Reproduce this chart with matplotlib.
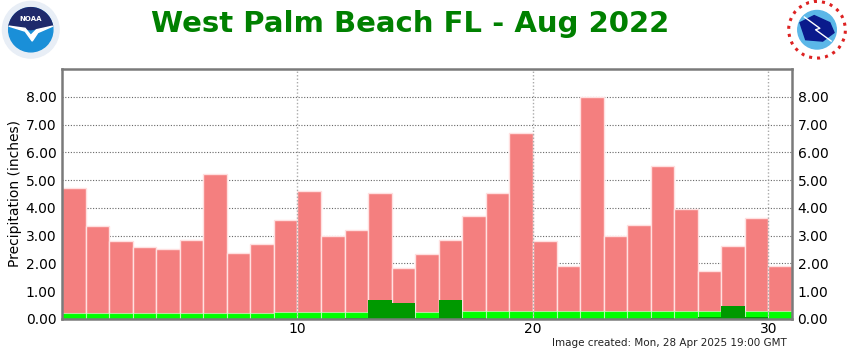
import matplotlib
matplotlib.use("Agg")
import matplotlib.pyplot as plt
from matplotlib.patches import Circle, Wedge, Polygon

# Daily precipitation, Aug 2022 (inches)
days = list(range(1, 32))
record_max = [4.70, 3.34, 2.81, 2.58, 2.51, 2.85, 5.22, 2.37, 2.69, 3.57,
              4.60, 3.00, 3.21, 4.53, 1.83, 2.34, 2.85, 3.71, 4.52, 6.68,
              2.82, 1.92, 8.00, 2.98, 3.38, 5.50, 3.96, 1.74, 2.61, 3.65,
              1.90]
normal = [0.22, 0.22, 0.22, 0.22, 0.22, 0.22, 0.22, 0.22, 0.23, 0.25,
          0.26, 0.26, 0.26, 0.26, 0.26, 0.26, 0.27, 0.27, 0.27, 0.27,
          0.27, 0.27, 0.27, 0.27, 0.27, 0.27, 0.27, 0.27, 0.27, 0.27,
          0.27]
observed = [0.00, 0.00, 0.00, 0.00, 0.00, 0.00, 0.00, 0.00, 0.00, 0.00,
            0.00, 0.01, 0.05, 0.68, 0.59, 0.03, 0.68, 0.05, 0.00, 0.00,
            0.00, 0.00, 0.00, 0.00, 0.00, 0.03, 0.00, 0.08, 0.48, 0.08,
            0.00]
yticks = [0, 1, 2, 3, 4, 5, 6, 7, 8]
xticks = [10, 20, 30]

fig = plt.figure(figsize=(8.5, 3.5), dpi=100)
ax = fig.add_axes([0.0729, 0.0886, 0.8589, 0.7143])

x = [d - 1 for d in days]
ax.bar(x, record_max, width=1, align="edge", color="#f47f7f",
       edgecolor=(1, 0.88, 0.88), linewidth=1, zorder=2)
ax.bar(x, normal, width=1, align="edge", color="#00ff00",
       edgecolor=(1, 1, 1, 0.5), linewidth=0.8, zorder=3)
ax.bar(x, observed, width=1, align="edge", color="#009900",
       linewidth=0, zorder=4)

ax.set_xlim(0, 31)
ax.set_ylim(0, 9)
ax.set_yticks(yticks)
ax.set_yticklabels([f"{v:.2f}" for v in yticks])
ax.set_xticks(xticks)
ax.tick_params(axis="both", length=0, labelsize=10, colors="black")
ax.tick_params(axis="y", labelright=True, pad=4)
ax.tick_params(axis="x", pad=2)

for v in yticks[1:]:
    ax.axhline(v, color="#666666", linestyle=(0, (1, 1.5)), linewidth=0.8, zorder=1)
for v in xticks:
    ax.axvline(v, color="#aaaaaa", linestyle=(0, (1, 1.5)), linewidth=1, zorder=5)

for side in ["top", "left", "right", "bottom"]:
    ax.spines[side].set_color("#7a7a7a")
    ax.spines[side].set_linewidth(1.8)
    ax.spines[side].set_zorder(6)

ax.set_ylabel("Precipitation (inches)", fontsize=10)
ax.yaxis.set_label_coords(-0.055, 0.5)

fig.text(0.483, 0.931, "West Palm Beach FL - Aug 2022", ha="center", va="center",
         fontsize=21, fontweight="bold", color="#008000")
fig.text(0.926, 0.02, "Image created: Mon, 28 Apr 2025 19:00 GMT", ha="right",
         va="center", fontsize=7.5, color="#222222")

# NOAA emblem
lax = fig.add_axes([-0.005, 0.83, 0.0824, 0.17])
lax.set_xlim(-1.05, 1.05)
lax.set_ylim(-1.05, 1.05)
lax.set_aspect("equal")
lax.axis("off")
lax.add_patch(Circle((0, 0), 1.0, color="#e8eef6"))
lax.add_patch(Circle((0, 0), 0.78, color="#1a8fd8"))
lax.add_patch(Wedge((0, 0), 0.78, 10, 170, color="#1f2a6b"))
lax.add_patch(Polygon([(-0.78, 0.13), (-0.2, -0.05), (0.05, -0.4), (0.25, -0.1),
                       (0.78, 0.13), (0.2, 0.0), (0.0, -0.2), (-0.2, 0.05)],
                      color="white"))
lax.text(0, 0.38, "NOAA", ha="center", va="center", color="white",
         fontsize=5, fontweight="bold")

# NWS emblem
rax = fig.add_axes([0.92, 0.83, 0.0824, 0.17])
rax.set_xlim(-1.05, 1.05)
rax.set_ylim(-1.05, 1.05)
rax.set_aspect("equal")
rax.axis("off")
rax.add_patch(Circle((0, 0), 1.0, color="white", ec="#dd2222", lw=2.2, ls=":"))
rax.add_patch(Circle((0, 0), 0.68, color="#5bb7e8"))
rax.add_patch(Polygon([(-0.6, 0.25), (-0.1, 0.5), (0.45, 0.25), (0.6, -0.1),
                       (0.2, -0.4), (-0.4, -0.35)], color="#0a1a8c"))
rax.plot([-0.45, 0.1, -0.05, 0.5], [0.45, 0.05, 0.0, -0.4], color="white", lw=1)

fig.savefig("out.png", dpi=100)
